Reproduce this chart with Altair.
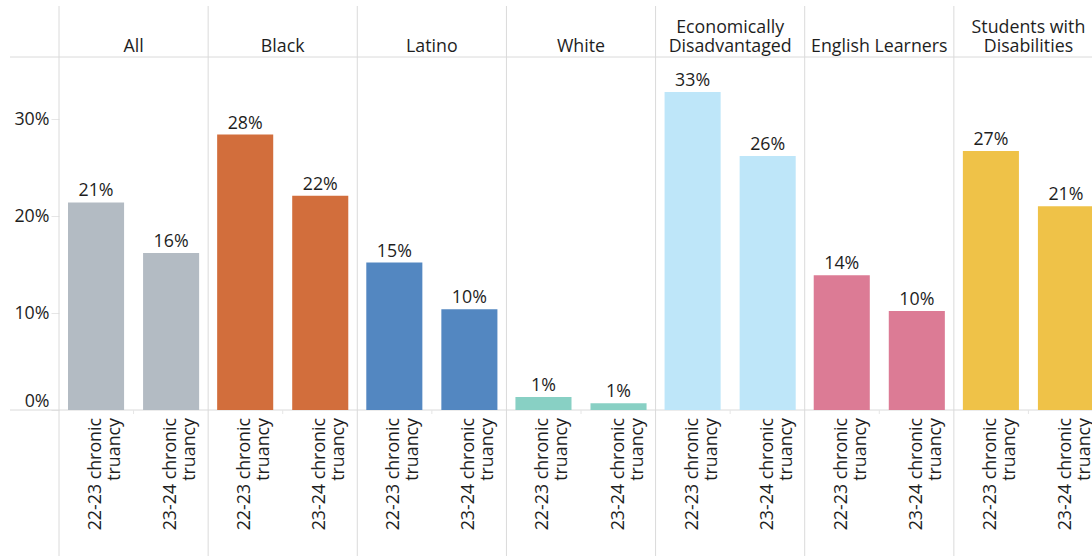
import altair as alt
import pandas as pd

groups = ["All", "Black", "Latino", "White", "Economically Disadvantaged",
          "English Learners", "Students with Disabilities"]
header_top = ["", "", "", "", "Economically", "", "Students with"]
header_bottom = ["All", "Black", "Latino", "White", "Disadvantaged",
                 "English Learners", "Disabilities"]
years = ["22-23 chronic\ntruancy", "23-24 chronic\ntruancy"]
rate_2223 = [0.214, 0.284, 0.152, 0.0135, 0.328, 0.139, 0.267]
rate_2324 = [0.162, 0.221, 0.104, 0.007, 0.262, 0.102, 0.210]
colors = ["#b3bbc3", "#d26e3c", "#5387c1", "#88d0c4", "#bee6f9", "#dc7b95", "#efc248"]

rows = []
for g, a, b in zip(groups, rate_2223, rate_2324):
    rows.append(dict(group=g, year=years[0], rate=a))
    rows.append(dict(group=g, year=years[1], rate=b))
df = pd.DataFrame(rows)
gdf = pd.DataFrame(dict(group=groups, top=header_top, bottom=header_bottom))

W, H = 1033, 353
FONT = "Open Sans"
FS = 17.8
TXT = "#1e1e1e"
LINE = "#dadada"

xs = alt.Scale(domain=groups, range=[0, 1044], paddingInner=0, paddingOuter=0)
x = alt.X("group:N", scale=xs, axis=None)
xo = alt.XOffset("year:N", scale=alt.Scale(domain=years, paddingInner=0.253, paddingOuter=0.12))
ys = alt.Scale(domain=[0, 0.364])
yax = alt.Axis(values=[0, 0.1, 0.2, 0.3], format=".0%", title=None, domain=False, grid=False,
               tickColor="#e6e6e6", tickSize=8, labelPadding=2, labelFontSize=FS,
               labelFont=FONT, labelColor=TXT, labelFlush=True)

base = alt.Chart(df)
gbase = alt.Chart(gdf)

bars = base.mark_bar().encode(
    x=x, xOffset=xo,
    y=alt.Y("rate:Q", scale=ys, axis=yax),
    color=alt.Color("group:N", scale=alt.Scale(domain=groups, range=colors), legend=None),
)

vals = base.mark_text(baseline="bottom", dy=-2, fontSize=FS, font=FONT, color=TXT).encode(
    x=x, xOffset=xo, y=alt.Y("rate:Q", scale=ys), text=alt.Text("rate:Q", format=".0%")
)

yearlab = base.mark_text(angle=270, align="right", baseline="middle", lineBreak="\n",
                         lineHeight=19, fontSize=FS, font=FONT, color=TXT).encode(
    x=x, xOffset=xo, y=alt.value(H + 8), text="year:N"
)

head1 = gbase.mark_text(baseline="alphabetic", fontSize=FS, font=FONT, color=TXT).encode(
    x=x, y=alt.value(-24), text="top:N"
)
head2 = gbase.mark_text(baseline="alphabetic", fontSize=FS, font=FONT, color=TXT).encode(
    x=x, y=alt.value(-5), text="bottom:N"
)

seps = gbase.mark_rule(color=LINE, strokeWidth=1).encode(
    x=alt.X("group:N", scale=xs, axis=None, bandPosition=0),
    y=alt.value(-51), y2=alt.value(H + 146)
)

midticks = gbase.mark_rule(color="#e6e6e6", strokeWidth=1).encode(
    x=alt.X("group:N", scale=xs, axis=None, bandPosition=0.5),
    y=alt.value(H), y2=alt.value(H + 4)
)

topline = gbase.transform_filter(alt.datum.group == "All").mark_rule(color=LINE, strokeWidth=1).encode(
    x=alt.value(-49), x2=alt.value(W), y=alt.value(0)
)
botline = gbase.transform_filter(alt.datum.group == "All").mark_rule(color=LINE, strokeWidth=1).encode(
    x=alt.value(-49), x2=alt.value(W), y=alt.value(H)
)

chart = alt.layer(seps, topline, botline, midticks, bars, vals, yearlab, head1, head2).properties(
    width=W, height=H,
    autosize=alt.AutoSizeParams(type="none"),
    padding={"left": 59, "top": 57, "right": 0, "bottom": 146},
).configure_view(stroke=None)

chart.save("out.html", embed_options={"renderer": "svg", "actions": False})
